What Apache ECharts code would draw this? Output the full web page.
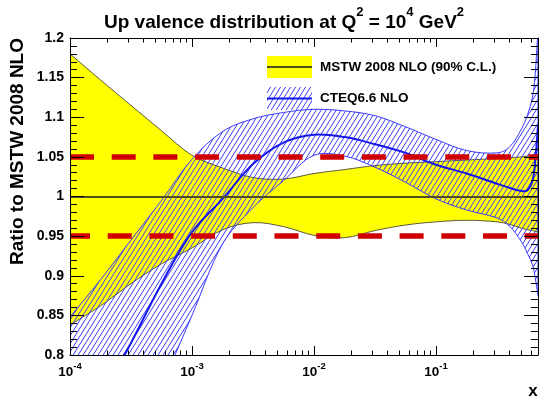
<!DOCTYPE html>
<html>
<head>
<meta charset="utf-8">
<script src="https://cdn.jsdelivr.net/npm/echarts@6/dist/echarts.min.js"></script>
<style>
html, body { margin: 0; padding: 0; background: #fff; }
#chart { width: 539px; height: 397px; }
</style>
</head>
<body>
<div id="chart"></div>
<script>
// x grid (log spaced) and ratios
const xs = [1e-4, 1.78e-4, 3.16e-4, 5.62e-4, 1e-3, 1.78e-3, 3.16e-3, 5.62e-3, 0.01, 0.0178, 0.0316, 0.0562, 0.1, 0.178, 0.316, 0.398, 0.501, 0.562, 0.617, 0.646, 0.685]
const mstwUpper = [1.180, 1.147, 1.115, 1.083, 1.052, 1.036, 1.024, 1.022, 1.029, 1.034, 1.039, 1.042, 1.044, 1.046, 1.048, 1.049, 1.050, 1.051, 1.052, 1.052, 1.053]
const mstwLower = [0.838, 0.862, 0.890, 0.915, 0.935, 0.958, 0.967, 0.962, 0.951, 0.948, 0.957, 0.964, 0.968, 0.970, 0.968, 0.965, 0.960, 0.958, 0.957, 0.956, 0.955]
const cteqUpper = [0.848, 0.895, 0.945, 0.995, 1.047, 1.082, 1.098, 1.106, 1.110, 1.108, 1.102, 1.088, 1.072, 1.058, 1.055, 1.062, 1.085, 1.103, 1.125, 1.150, 1.210]
const cteqCentral = [0.680, 0.745, 0.815, 0.890, 0.955, 0.997, 1.041, 1.068, 1.078, 1.075, 1.066, 1.055, 1.040, 1.029, 1.016, 1.011, 1.007, 1.008, 1.020, 1.040, 1.090]
const cteqLower = [0.500, 0.580, 0.670, 0.760, 0.850, 0.940, 0.986, 1.020, 1.052, 1.051, 1.037, 1.018, 0.997, 0.983, 0.973, 0.963, 0.943, 0.928, 0.914, 0.900, 0.875]
const refLevels = [0.95, 1.05]
const yMin = 0.8
const yMax = 1.2
const xMin = 1e-4
const xMax = 0.685

const FONT = 'Liberation Sans, Arial, Helvetica, sans-serif'
const SMOOTH = 0.35

// diagonal hatch used for the CTEQ band
function hatch(color, w, h) {
  const c = document.createElement('canvas')
  c.width = w
  c.height = h
  const ctx = c.getContext('2d')
  ctx.strokeStyle = color
  ctx.lineWidth = 1
  ctx.beginPath()
  for (let k = -1; k <= 1; k++) {
    ctx.moveTo(-w, (2 + k) * h)
    ctx.lineTo(2 * w, (k - 1) * h)
  }
  ctx.stroke()
  return { image: c, repeat: 'repeat' }
}
const hatchFill = hatch('#3a3aff', 5, 8)

// closed band upper -> lower, end points doubled so the corners stay sharp
function band(name, upper, lower, fill, stroke, blend, z) {
  return {
    name: name,
    type: 'custom',
    z: z,
    clip: true,
    silent: true,
    data: xs.map((x, i) => [x, lower[i], upper[i]]),
    encode: { x: 0, y: [1, 2] },
    renderItem(params, api) {
      if (params.dataIndex !== 0) return null
      const top = xs.map((x, i) => api.coord([x, upper[i]]))
      const bot = xs.map((x, i) => api.coord([x, lower[i]])).reverse()
      const pts = [top[0]].concat(top, [top[top.length - 1]], [bot[0]], bot, [bot[bot.length - 1]])
      return {
        type: 'polygon',
        shape: { points: pts, smooth: SMOOTH },
        style: { fill: fill, stroke: stroke, lineWidth: 1, blend: blend }
      }
    }
  }
}

function curve(name, values, color, width, z) {
  return {
    name: name,
    type: 'custom',
    z: z,
    clip: true,
    silent: true,
    data: xs.map((x, i) => [x, values[i]]),
    encode: { x: 0, y: 1 },
    renderItem(params, api) {
      if (params.dataIndex !== 0) return null
      return {
        type: 'polyline',
        shape: { points: xs.map((x, i) => api.coord([x, values[i]])), smooth: SMOOTH },
        style: { fill: 'none', stroke: color, lineWidth: width }
      }
    }
  }
}

// log minor ticks 2..9 per decade, bottom and top
const minorXs = []
for (let e = -4; e < 0; e++) {
  for (let k = 2; k <= 9; k++) {
    const v = k * Math.pow(10, e)
    if (v < xMax) minorXs.push(v)
  }
}

function expLabel(v) {
  const l = Math.log10(v)
  const e = Math.round(l)
  if (Math.abs(l - e) > 1e-6) return ''
  return '{b|10}{s|' + e + '}'
}

const chart = echarts.init(document.getElementById('chart'))
const option = {
  animation: false,
  backgroundColor: '#ffffff',
  title: {
    text: '{t|Up valence distribution at Q}{s|2}{t| = 10}{s|4}{t| GeV}{s|2}',
    left: 99,
    top: 1,
    textStyle: {
      rich: {
        t: { fontFamily: FONT, fontWeight: 'bold', fontSize: 19, color: '#000', lineHeight: 26, verticalAlign: 'bottom' },
        s: { fontFamily: FONT, fontWeight: 'bold', fontSize: 13, color: '#000', lineHeight: 14, verticalAlign: 'top' }
      }
    }
  },
  grid: { left: 70, right: 1, top: 38, bottom: 42, containLabel: false },
  xAxis: [
    {
      type: 'log', logBase: 10, min: xMin, max: xMax, position: 'bottom', z: 10,
      axisLine: { lineStyle: { color: '#000', width: 1 } },
      axisTick: { inside: true, length: 9, lineStyle: { color: '#000' } },
      splitLine: { show: false },
      axisLabel: {
        margin: 6, showMaxLabel: false, formatter: expLabel,
        rich: {
          b: { fontFamily: FONT, fontWeight: 'bold', fontSize: 13.5, color: '#000', lineHeight: 18, verticalAlign: 'bottom' },
          s: { fontFamily: FONT, fontWeight: 'bold', fontSize: 9.5, color: '#000', lineHeight: 10, verticalAlign: 'top' }
        }
      }
    },
    {
      type: 'log', logBase: 10, min: xMin, max: xMax, position: 'top', z: 10,
      axisLine: { lineStyle: { color: '#000', width: 1 } },
      axisTick: { inside: true, length: 9, lineStyle: { color: '#000' } },
      splitLine: { show: false },
      axisLabel: { show: false }
    }
  ],
  yAxis: [
    {
      type: 'value', min: yMin, max: yMax, interval: 0.05, position: 'left', z: 10,
      axisLine: { show: true, lineStyle: { color: '#000', width: 1 } },
      axisTick: { show: true, inside: true, length: 14, lineStyle: { color: '#000' } },
      minorTick: { show: true, splitNumber: 5, length: 7, lineStyle: { color: '#000' } },
      splitLine: { show: false },
      axisLabel: {
        margin: 6, color: '#000', fontFamily: FONT, fontWeight: 'bold', fontSize: 14,
        formatter: v => String(+v.toFixed(2))
      }
    },
    {
      type: 'value', min: yMin, max: yMax, interval: 0.05, position: 'right', z: 10,
      axisLine: { show: true, lineStyle: { color: '#000', width: 1 } },
      axisTick: { show: true, inside: true, length: 14, lineStyle: { color: '#000' } },
      minorTick: { show: true, splitNumber: 5, length: 7, lineStyle: { color: '#000' } },
      splitLine: { show: false },
      axisLabel: { show: false }
    }
  ],
  series: [
    band('MSTW 2008 NLO (90% C.L.)', mstwUpper, mstwLower, '#ffff00', '#5a5a3a', 'source-over', 1),
    {
      name: 'MSTW central',
      type: 'line',
      data: [],
      z: 2,
      markLine: {
        silent: true, symbol: 'none', label: { show: false },
        lineStyle: { color: '#50501e', width: 2.2, type: 'solid' },
        data: [{ yAxis: 1 }]
      }
    },
    band('CTEQ6.6 NLO', cteqUpper, cteqLower, hatchFill, '#3a3aff', 'multiply', 3),
    curve('CTEQ6.6 central', cteqCentral, '#1515ee', 2, 4),
    {
      name: 'reference',
      type: 'line',
      data: [],
      z: 5,
      markLine: {
        silent: true, symbol: 'none', label: { show: false },
        lineStyle: { color: '#d10000', width: 5.5, type: [24, 17.7], cap: 'butt' },
        data: refLevels.map((v, i) => ({ yAxis: v, lineStyle: { dashOffset: i === 0 ? 4 : 0 } }))
      }
    },
    {
      name: 'minor ticks',
      type: 'custom',
      z: 10,
      clip: false,
      silent: true,
      data: minorXs.map(v => [v, yMin]),
      encode: { x: 0, y: 1 },
      renderItem(params, api) {
        const x = api.value(0)
        const b = api.coord([x, yMin])
        const t = api.coord([x, yMax])
        const px = Math.round(b[0]) + 0.5
        return {
          type: 'group',
          children: [
            { type: 'line', shape: { x1: px, y1: b[1], x2: px, y2: b[1] - 4.5 }, style: { stroke: '#000', lineWidth: 1 } },
            { type: 'line', shape: { x1: px, y1: t[1], x2: px, y2: t[1] + 4.5 }, style: { stroke: '#000', lineWidth: 1 } }
          ]
        }
      }
    }
  ],
  graphic: [
    { type: 'rect', z: 20, shape: { x: 267, y: 56, width: 45, height: 22 }, style: { fill: '#ffff00' } },
    { type: 'line', z: 21, shape: { x1: 267, y1: 67, x2: 312, y2: 67 }, style: { stroke: '#50501e', lineWidth: 2 } },
    { type: 'rect', z: 20, shape: { x: 267, y: 87, width: 45, height: 23 }, style: { fill: hatchFill } },
    { type: 'line', z: 21, shape: { x1: 267, y1: 98.5, x2: 312, y2: 98.5 }, style: { stroke: '#1515ee', lineWidth: 2 } },
    {
      type: 'text', z: 21, x: 320, y: 67,
      style: { text: 'MSTW 2008 NLO (90% C.L.)', font: 'bold 13.5px ' + FONT, fill: '#000', textAlign: 'left', textVerticalAlign: 'middle', align: 'left', verticalAlign: 'middle' }
    },
    {
      type: 'text', z: 21, x: 320, y: 98.5,
      style: { text: 'CTEQ6.6 NLO', font: 'bold 13.5px ' + FONT, fill: '#000', textAlign: 'left', textVerticalAlign: 'middle', align: 'left', verticalAlign: 'middle' }
    },
    {
      type: 'text', z: 21, x: 18, y: 38, rotation: Math.PI / 2,
      style: { text: 'Ratio to MSTW 2008 NLO', font: 'bold 19px ' + FONT, fill: '#000', textAlign: 'right', textVerticalAlign: 'middle', align: 'right', verticalAlign: 'middle' }
    },
    {
      type: 'text', z: 21, x: 533, y: 391,
      style: { text: 'x', font: 'bold 17px ' + FONT, fill: '#000', textAlign: 'center', textVerticalAlign: 'middle', align: 'center', verticalAlign: 'middle' }
    }
  ]
}
chart.setOption(option)
</script>
</body>
</html>
